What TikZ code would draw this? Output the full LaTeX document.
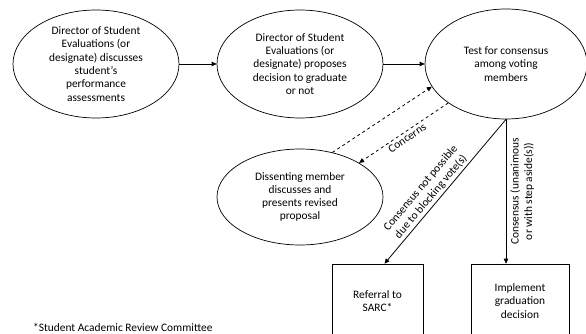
\documentclass[tikz,border=0pt]{standalone}
\usepackage{fontspec}
\setmainfont{Carlito}
\usetikzlibrary{shapes.geometric,arrows.meta,calc}
\begin{document}
\begin{tikzpicture}[x=1pt,y=-1pt,
  txt/.style={font=\fontsize{11.4}{13.3}\selectfont,align=center},
  ell/.style={txt,draw,ellipse,line width=0.7pt,inner sep=0pt,inner ysep=-5pt},
  box/.style={txt,draw,rectangle,line width=0.7pt,inner sep=0pt},
  arr/.style={line width=0.8pt,-{Triangle[length=5pt,width=4.5pt]}},
  lbl/.style={txt,inner sep=2pt}]
\useasboundingbox (0,0) rectangle (586,334);
\clip (0,0) rectangle (586,334);
\node[ell,minimum width=166pt,minimum height=108pt] (e1) at (96,64)
  {Director of Student\\Evaluations (or\\designate) discusses\\student’s\\performance\\assessments};
\node[ell,minimum width=166pt,minimum height=108pt] (e2) at (300,64)
  {Director of Student\\Evaluations (or\\designate) proposes\\decision to graduate\\or not};
\node[ell,minimum width=162pt,minimum height=110pt] (e3) at (506,64)
  {Test for consensus\\among voting\\members};
\node[ell,minimum width=166pt,minimum height=96pt] (e4) at (300,197)
  {Dissenting member\\discusses and\\presents revised\\proposal};
\node[box,minimum width=91pt,minimum height=74pt] (ref) at (377.5,301)
  {Referral to\\SARC*};
\node[box,minimum width=98pt,minimum height=74pt] (impl) at (520,301)
  {Implement\\graduation\\decision};
\node[txt,anchor=west,inner sep=0pt] (foot) at (33,327) {*Student Academic Review Committee};
\draw[arr] (e1) -- (e2);
\draw[arr] (e2) -- (e3);
\draw[arr,dashed] (e4.54) -- (e3.197);
\draw[arr,dashed] (e3.214) -- node[lbl,sloped,below] {Concerns} (e4.30);
\coordinate (refin) at ($(ref.north)+(7,0)$);
\draw[arr] (e3.south) -- node[lbl,sloped,above,pos=0.57] {Consensus not possible\\due to blocking vote(s)} (refin);
\draw[arr] (e3.south) -- node[lbl,midway,rotate=90,anchor=north,inner sep=4pt] {Consensus (unanimous\\or with step aside(s))} (e3.south |- impl.north);
\end{tikzpicture}
\end{document}
